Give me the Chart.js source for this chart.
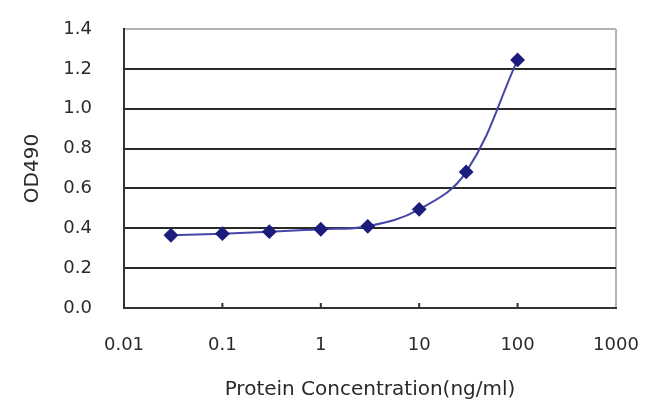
<!DOCTYPE html>
<html>
    <head>
        <title>OD490 vs Protein Concentration</title>
        <meta charset="utf-8">
        <script src="https://cdn.jsdelivr.net/npm/chart.js@4.4.1/dist/chart.umd.min.js"></script>
        <style>
            html, body { margin: 0; padding: 0; background: #fff; }
            #wrap { position: relative; width: 650px; height: 417px; }
        </style>
    </head>
    <body>
        <div id="wrap"><canvas id="myChart"></canvas></div>
        <script>
            // concentration (ng/ml) and measured OD490
            var concentration = [0.03, 0.1, 0.3, 1, 3, 10, 30, 100];
            var od490 = [0.365, 0.373, 0.383, 0.395, 0.41, 0.495, 0.683, 1.245];

            var xTickValues = [0.01, 0.1, 1, 10, 100, 1000];
            var xTickLabels = ['0.01', '0.1', '1', '10', '100', '1000'];
            var yTickLabels = ['0.0', '0.2', '0.4', '0.6', '0.8', '1.0', '1.2', '1.4'];

            var points = concentration.map(function(c, i) { return {x: c, y: od490[i]}; });

            var tickFont = {family: "'DejaVu Sans', sans-serif", size: 18};
            var titleFont = {family: "'DejaVu Sans', sans-serif", size: 20};

            // small inward tick marks on the x axis at each decade
            var innerTicks = {
                id: 'innerTicks',
                afterDraw: function(chart) {
                    var c = chart.ctx, xs = chart.scales.x, bottom = chart.chartArea.bottom;
                    c.save();
                    c.strokeStyle = '#333';
                    c.lineWidth = 2;
                    xTickValues.slice(1, -1).forEach(function(v) {
                        var px = xs.getPixelForValue(v);
                        c.beginPath();
                        c.moveTo(px, bottom);
                        c.lineTo(px, bottom - 5);
                        c.stroke();
                    });
                    c.restore();
                }
            };

            var ctx = document.getElementById('myChart').getContext('2d');
            var chart = new Chart(ctx, {
                type: 'line',
                data: {
                    datasets: [{
                        label: 'OD490',
                        data: points,
                        borderColor: '#4646a8',
                        borderWidth: 2,
                        backgroundColor: '#1c1c7c',
                        pointBackgroundColor: '#1c1c7c',
                        pointBorderColor: '#1c1c7c',
                        pointStyle: 'rectRot',
                        pointRadius: 6,
                        fill: false,
                        tension: 0.4
                    }]
                },
                options: {
                    responsive: true,
                    maintainAspectRatio: false,
                    animation: false,
                    layout: { padding: {top: 29, right: 34, left: 0, bottom: 0} },
                    plugins: {
                        legend: { display: false },
                        tooltip: { enabled: false }
                    },
                    scales: {
                        x: {
                            type: 'logarithmic',
                            min: 0.01,
                            max: 1000,
                            afterBuildTicks: function(scale) {
                                scale.ticks = xTickValues.map(function(v) { return {value: v}; });
                            },
                            afterFit: function(scale) {
                                scale.height = 109;
                                scale.paddingLeft = 0;
                                scale.paddingRight = 0;
                            },
                            ticks: {
                                color: '#2a2a2a',
                                font: tickFont,
                                padding: 27,
                                autoSkip: false,
                                maxRotation: 0,
                                callback: function(value, index) { return xTickLabels[index]; }
                            },
                            grid: {
                                drawTicks: false,
                                lineWidth: 2,
                                color: function(c) {
                                    return c.tick && c.tick.value === 1000 ? '#b4b4b4' : 'rgba(0,0,0,0)';
                                }
                            },
                            border: { display: true, color: '#333', width: 2 },
                            title: {
                                display: true,
                                text: 'Protein Concentration(ng/ml)',
                                color: '#2a2a2a',
                                font: titleFont,
                                padding: {top: 0, bottom: 15}
                            }
                        },
                        y: {
                            min: 0,
                            max: 1.4,
                            afterFit: function(scale) {
                                scale.width = 124;
                                scale.paddingTop = 0;
                                scale.paddingBottom = 0;
                            },
                            ticks: {
                                stepSize: 0.2,
                                color: '#2a2a2a',
                                font: tickFont,
                                padding: 32,
                                callback: function(value, index) { return yTickLabels[index]; }
                            },
                            grid: {
                                drawTicks: false,
                                lineWidth: 2,
                                color: function(c) {
                                    return c.index === yTickLabels.length - 1 ? '#b4b4b4' : '#2a2a2a';
                                }
                            },
                            border: { display: true, color: '#333', width: 2 },
                            title: {
                                display: true,
                                text: 'OD490',
                                color: '#2a2a2a',
                                font: titleFont,
                                padding: {top: 21, bottom: 0}
                            }
                        }
                    }
                },
                plugins: [innerTicks]
            });
        </script>
    </body>
</html>
